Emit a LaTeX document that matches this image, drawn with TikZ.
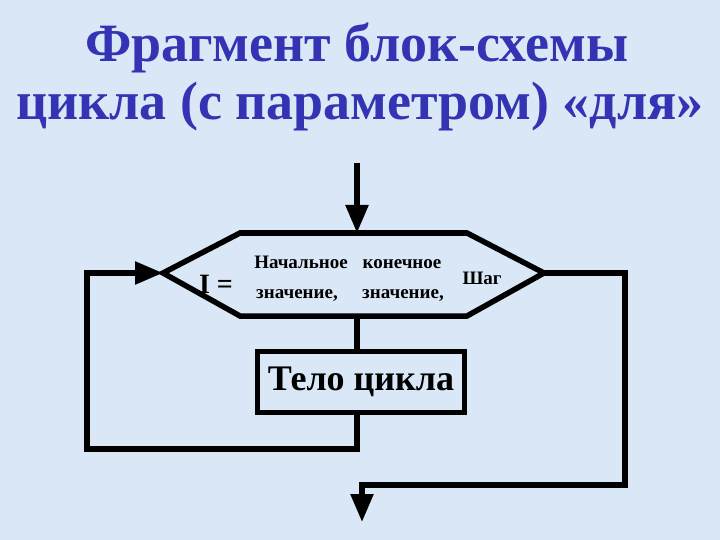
\documentclass[tikz,border=0pt]{standalone}
\usepackage{fontspec}
\setmainfont{Liberation Serif}
\usetikzlibrary{arrows.meta}
\definecolor{bgblue}{RGB}{218,231,246}
\definecolor{titleblue}{RGB}{51,51,180}
\tikzset{
  flow/.style={line width=5.5pt, line join=miter},
  arr/.style={flow, -{Triangle[length=28pt,width=22pt]}},
  small/.style={font=\bfseries\fontsize{19}{21}\selectfont, inner sep=0pt, anchor=base},
  ttl/.style={titleblue, font=\bfseries\fontsize{54}{60}\selectfont, inner sep=0pt, anchor=base},
}
\begin{document}
\begin{tikzpicture}[x=1pt,y=-1pt]
\fill[bgblue] (0,0) rectangle (720,540);
\useasboundingbox (0,0) rectangle (720,540);
% title
\node[ttl] (title1) at (357,62) {Фрагмент блок-схемы};
\node[ttl] (title2) at (360,120) {цикла (с параметром) «для»};
% hexagon
\coordinate (hL) at (163,273);
\coordinate (hR) at (544,273);
\coordinate (hT) at (357,233);
\coordinate (hB) at (357,316);
\draw[flow] (240,233) -- (467,233) -- (hR) -- (467,316) -- (240,316) -- (hL) -- cycle;
\node[font=\bfseries\fontsize{28}{30}\selectfont, inner sep=0pt, anchor=base] (ieq) at (216,293) {I =};
\node[small] (n1) at (301,268) {Начальное};
\node[small] (n2) at (402,268) {конечное};
\node[small] (v1) at (297,298) {значение,};
\node[small] (v2) at (403,298) {значение,};
\node[small] (step1) at (482,284) {Шаг};
% body
\node[draw, line width=5.5pt, minimum width=207pt, minimum height=61pt, inner sep=0pt,
  font=\bfseries\fontsize{36}{38}\selectfont] (body) at (361,382) {Тело цикла};
% connectors
\coordinate (in) at (357,163);
\draw[arr] (in) -- (hT);
\draw[flow] (hB) -- (body.north -| hB);
\coordinate (lb) at (357,449);
\coordinate (ll) at (87,449);
\coordinate (lt) at (87,273);
\draw[arr] (body.south -| lb) -- (lb) -- (ll) -- (lt) -- (hL);
\coordinate (r1) at (625,273);
\coordinate (r2) at (625,485);
\coordinate (r3) at (362,485);
\coordinate (out) at (362,522);
\draw[arr] (hR) -- (r1) -- (r2) -- (r3) -- (out);
\end{tikzpicture}
\end{document}
